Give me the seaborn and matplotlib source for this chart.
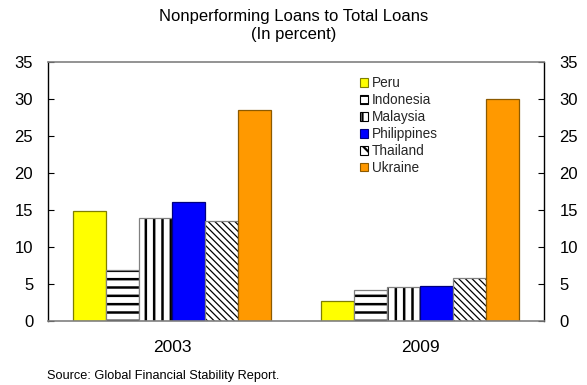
import matplotlib
matplotlib.use("Agg")
import matplotlib.pyplot as plt
import matplotlib.colors as mcolors
from matplotlib.patches import Patch
import seaborn as sns
import pandas as pd

# Nonperforming loans as a share of total loans, by country and year (percent)
years = ["2003", "2009"]
countries = ["Peru", "Indonesia", "Malaysia", "Philippines", "Thailand", "Ukraine"]
npl_2003 = [14.8, 6.8, 13.9, 16.1, 13.5, 28.4]
npl_2009 = [2.6, 4.1, 4.6, 4.7, 5.8, 29.9]

face_colors = ["#FFFF00", "white", "white", "#0000FF", "white", "#FF9900"]
edge_colors = ["#7F7F00", "#808080", "#808080", "#00007F", "#808080", "#8C5A00"]
hatches = ["", "--", "||", "", "\\\\\\\\\\", ""]
hatch_widths = [0, 1.8, 1.8, 0, 0.9, 0]

df = pd.DataFrame({
    "year": years * len(countries),
    "country": [c for c in countries for _ in years],
    "npl": [v for pair in zip(npl_2003, npl_2009) for v in pair],
})

sns.set_theme(style="white")
plt.rcParams["font.family"] = ["Liberation Sans", "DejaVu Sans"]
plt.rcParams["hatch.linewidth"] = 1.6

fig = plt.figure(figsize=(5.87, 3.85), dpi=100)
ax = fig.add_axes([0.0826, 0.167, 0.8441, 0.673])

sns.barplot(data=df, x="year", y="npl", hue="country", order=years,
            hue_order=countries, palette=dict(zip(countries, face_colors)),
            saturation=1, width=0.8, legend=False, errorbar=None, ax=ax)

for cont, fc, ec, h, hw in zip(ax.containers, face_colors, edge_colors,
                               hatches, hatch_widths):
    for bar in cont:
        bar.set_facecolor(fc)
        bar.set_edgecolor(ec)
        bar.set_linewidth(0.9)
        if h:
            bar.set_hatch(h)
            bar._hatch_color = mcolors.to_rgba("black")
            if hasattr(bar, "set_hatch_linewidth"):
                bar.set_hatch_linewidth(hw)

ax.set_ylim(0, 35)
ax.set_xlim(-0.5, 1.5)
ax.set_yticks(range(0, 36, 5))
ax.set_xlabel("")
ax.set_ylabel("")

ax.tick_params(axis="y", which="both", direction="in", left=True, right=True,
               labelleft=True, labelright=True, length=4, width=0.8,
               color="black", pad=11, labelsize=12, labelcolor="black")
ax.tick_params(axis="x", length=0, pad=14, labelsize=12.5, labelcolor="black")

for side in ("left", "right"):
    ax.spines[side].set_color("black")
    ax.spines[side].set_linewidth(1.0)
for side in ("top", "bottom"):
    ax.spines[side].set_color("#808080")
    ax.spines[side].set_linewidth(1.2)

handles = []
for c, fc, ec, h in zip(countries, face_colors, edge_colors, hatches):
    p = Patch(facecolor=fc, edgecolor=("black" if h else ec), hatch=(h[:2] if h else h),
              linewidth=0.8, label=c)
    handles.append(p)
leg = ax.legend(handles=handles, loc="upper left",
                bbox_to_anchor=(360 / 587, 1 - 76 / 385),
                bbox_transform=fig.transFigure, frameon=False, fontsize=9.8,
                handlelength=0.6, handleheight=0.6, handletextpad=0.25,
                labelspacing=0.22, borderpad=0, borderaxespad=0)

fig.text(0.5, 1 - 16 / 385, "Nonperforming Loans to Total Loans", ha="center",
         va="center", fontsize=12, color="black")
fig.text(0.5, 1 - 34 / 385, "(In percent)", ha="center", va="center",
         fontsize=12, color="black")
fig.text(47 / 587, 1 - 376 / 385, "Source: Global Financial Stability Report.",
         ha="left", va="center", fontsize=9.2, color="black")

fig.savefig("out.png", dpi=100)
